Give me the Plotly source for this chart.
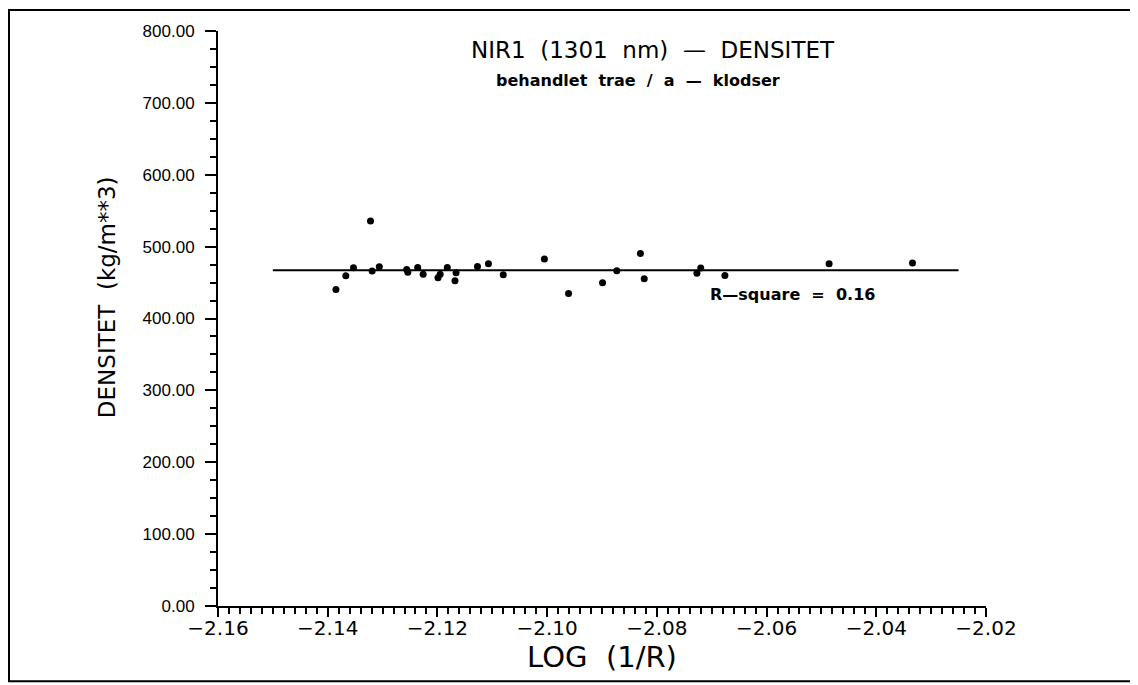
import plotly.graph_objects as go

# Data
x_vals = [-2.1385, -2.1367, -2.1353, -2.1322, -2.1319, -2.1306, -2.1256, -2.1254,
          -2.1236, -2.1226, -2.1199, -2.1195, -2.1182, -2.1168, -2.1166, -2.1127,
          -2.1107, -2.1080, -2.1005, -2.0961, -2.0899, -2.0873, -2.0830, -2.0823,
          -2.0727, -2.0720, -2.0676, -2.0486, -2.0334]
y_vals = [440.5, 459.4, 470.6, 535.6, 466.0, 472.0, 468.3, 464.2,
          471.1, 461.4, 456.6, 461.4, 471.1, 452.5, 463.6, 472.5,
          476.1, 460.8, 482.7, 434.9, 449.7, 466.4, 490.6, 455.2,
          462.8, 470.1, 460.0, 476.1, 477.1]
fit_x = [-2.15, -2.025]
fit_y = [467.3, 467.3]

x_range = [-2.16, -2.02]
y_range = [0, 800]

title_text = "NIR1  (1301  nm)  \u2014  DENSITET"
subtitle_text = "behandlet  trae  /  a  \u2014  klodser"
r2_text = "R\u2014square  =  0.16"
x_title = "LOG  (1/R)"
y_title = "DENSITET  (kg/m**3)"

FONT = "DejaVu Sans, Liberation Sans, sans-serif"
FONT2 = "Liberation Sans, Arial, sans-serif"

fig = go.Figure()
fig.add_trace(go.Scatter(x=fit_x, y=fit_y, mode="lines",
                         line=dict(color="black", width=2), showlegend=False))
fig.add_trace(go.Scatter(x=x_vals, y=y_vals, mode="markers",
                         marker=dict(color="black", size=7), showlegend=False))

# page body has an 8px margin; target screenshot pixel coordinates are shifted by OFF
OFF = 8
W, H = 1130, 677
L, T = 218 - OFF, 31 - OFF
pw = 768
ph = 574.7
R = W - L - pw
B = H - T - ph

def px2paper_x(px):
    return (px - OFF - L) / pw

def px2paper_y(py):
    return (T + ph - (py - OFF)) / ph

fig.update_layout(
    width=W, height=H,
    margin=dict(l=L, r=R, t=T, b=B, pad=0),
    paper_bgcolor="white", plot_bgcolor="white",
    font=dict(family=FONT, color="black"),
    xaxis=dict(
        range=x_range, dtick=0.02, tick0=-2.16, tickformat=".2f",
        showgrid=False, zeroline=False, showline=True, linecolor="black", linewidth=2,
        ticks="outside", ticklen=9, tickwidth=2, tickcolor="black",
        tickfont=dict(size=20, family=FONT),
        ticklabelstandoff=-6,
        minor=dict(dtick=0.002, ticks="outside", ticklen=6, tickwidth=1.5, tickcolor="black"),
        title=dict(text=x_title, font=dict(size=29, family=FONT), standoff=2),
    ),
    yaxis=dict(
        range=y_range, dtick=100, tickformat=".2f",
        showgrid=False, zeroline=False, showline=True, linecolor="black", linewidth=2,
        ticks="outside", ticklen=11, tickwidth=2, tickcolor="black",
        tickfont=dict(size=17, family=FONT2),
        ticklabelstandoff=7,
        minor=dict(dtick=25, ticks="outside", ticklen=6, tickwidth=1.5, tickcolor="black"),
    ),
    annotations=[
        dict(text=title_text, xref="paper", yref="paper",
             x=px2paper_x(653), y=px2paper_y(50), showarrow=False,
             font=dict(size=23, family=FONT), xanchor="center", yanchor="middle"),
        dict(text="<b>" + subtitle_text + "</b>", xref="paper", yref="paper",
             x=px2paper_x(638), y=px2paper_y(80), showarrow=False,
             font=dict(size=16, family=FONT), xanchor="center", yanchor="middle"),
        dict(text="<b>" + r2_text + "</b>", xref="paper", yref="paper",
             x=px2paper_x(708), y=px2paper_y(294), showarrow=False,
             font=dict(size=16, family=FONT), xanchor="left", yanchor="middle"),
        dict(text=y_title, xref="paper", yref="paper", textangle=-90,
             x=px2paper_x(107), y=px2paper_y(297), showarrow=False,
             font=dict(size=23, family=FONT), xanchor="center", yanchor="middle"),
    ],
    shapes=[
        dict(type="rect", xref="paper", yref="paper",
             x0=px2paper_x(9), x1=px2paper_x(1133),
             y0=px2paper_y(681), y1=px2paper_y(10),
             line=dict(color="black", width=2), fillcolor="rgba(0,0,0,0)", layer="below"),
    ],
)

fig.write_html(
    "out.html",
    post_script="document.documentElement.style.overflow='hidden';document.body.style.overflow='hidden';",
)
